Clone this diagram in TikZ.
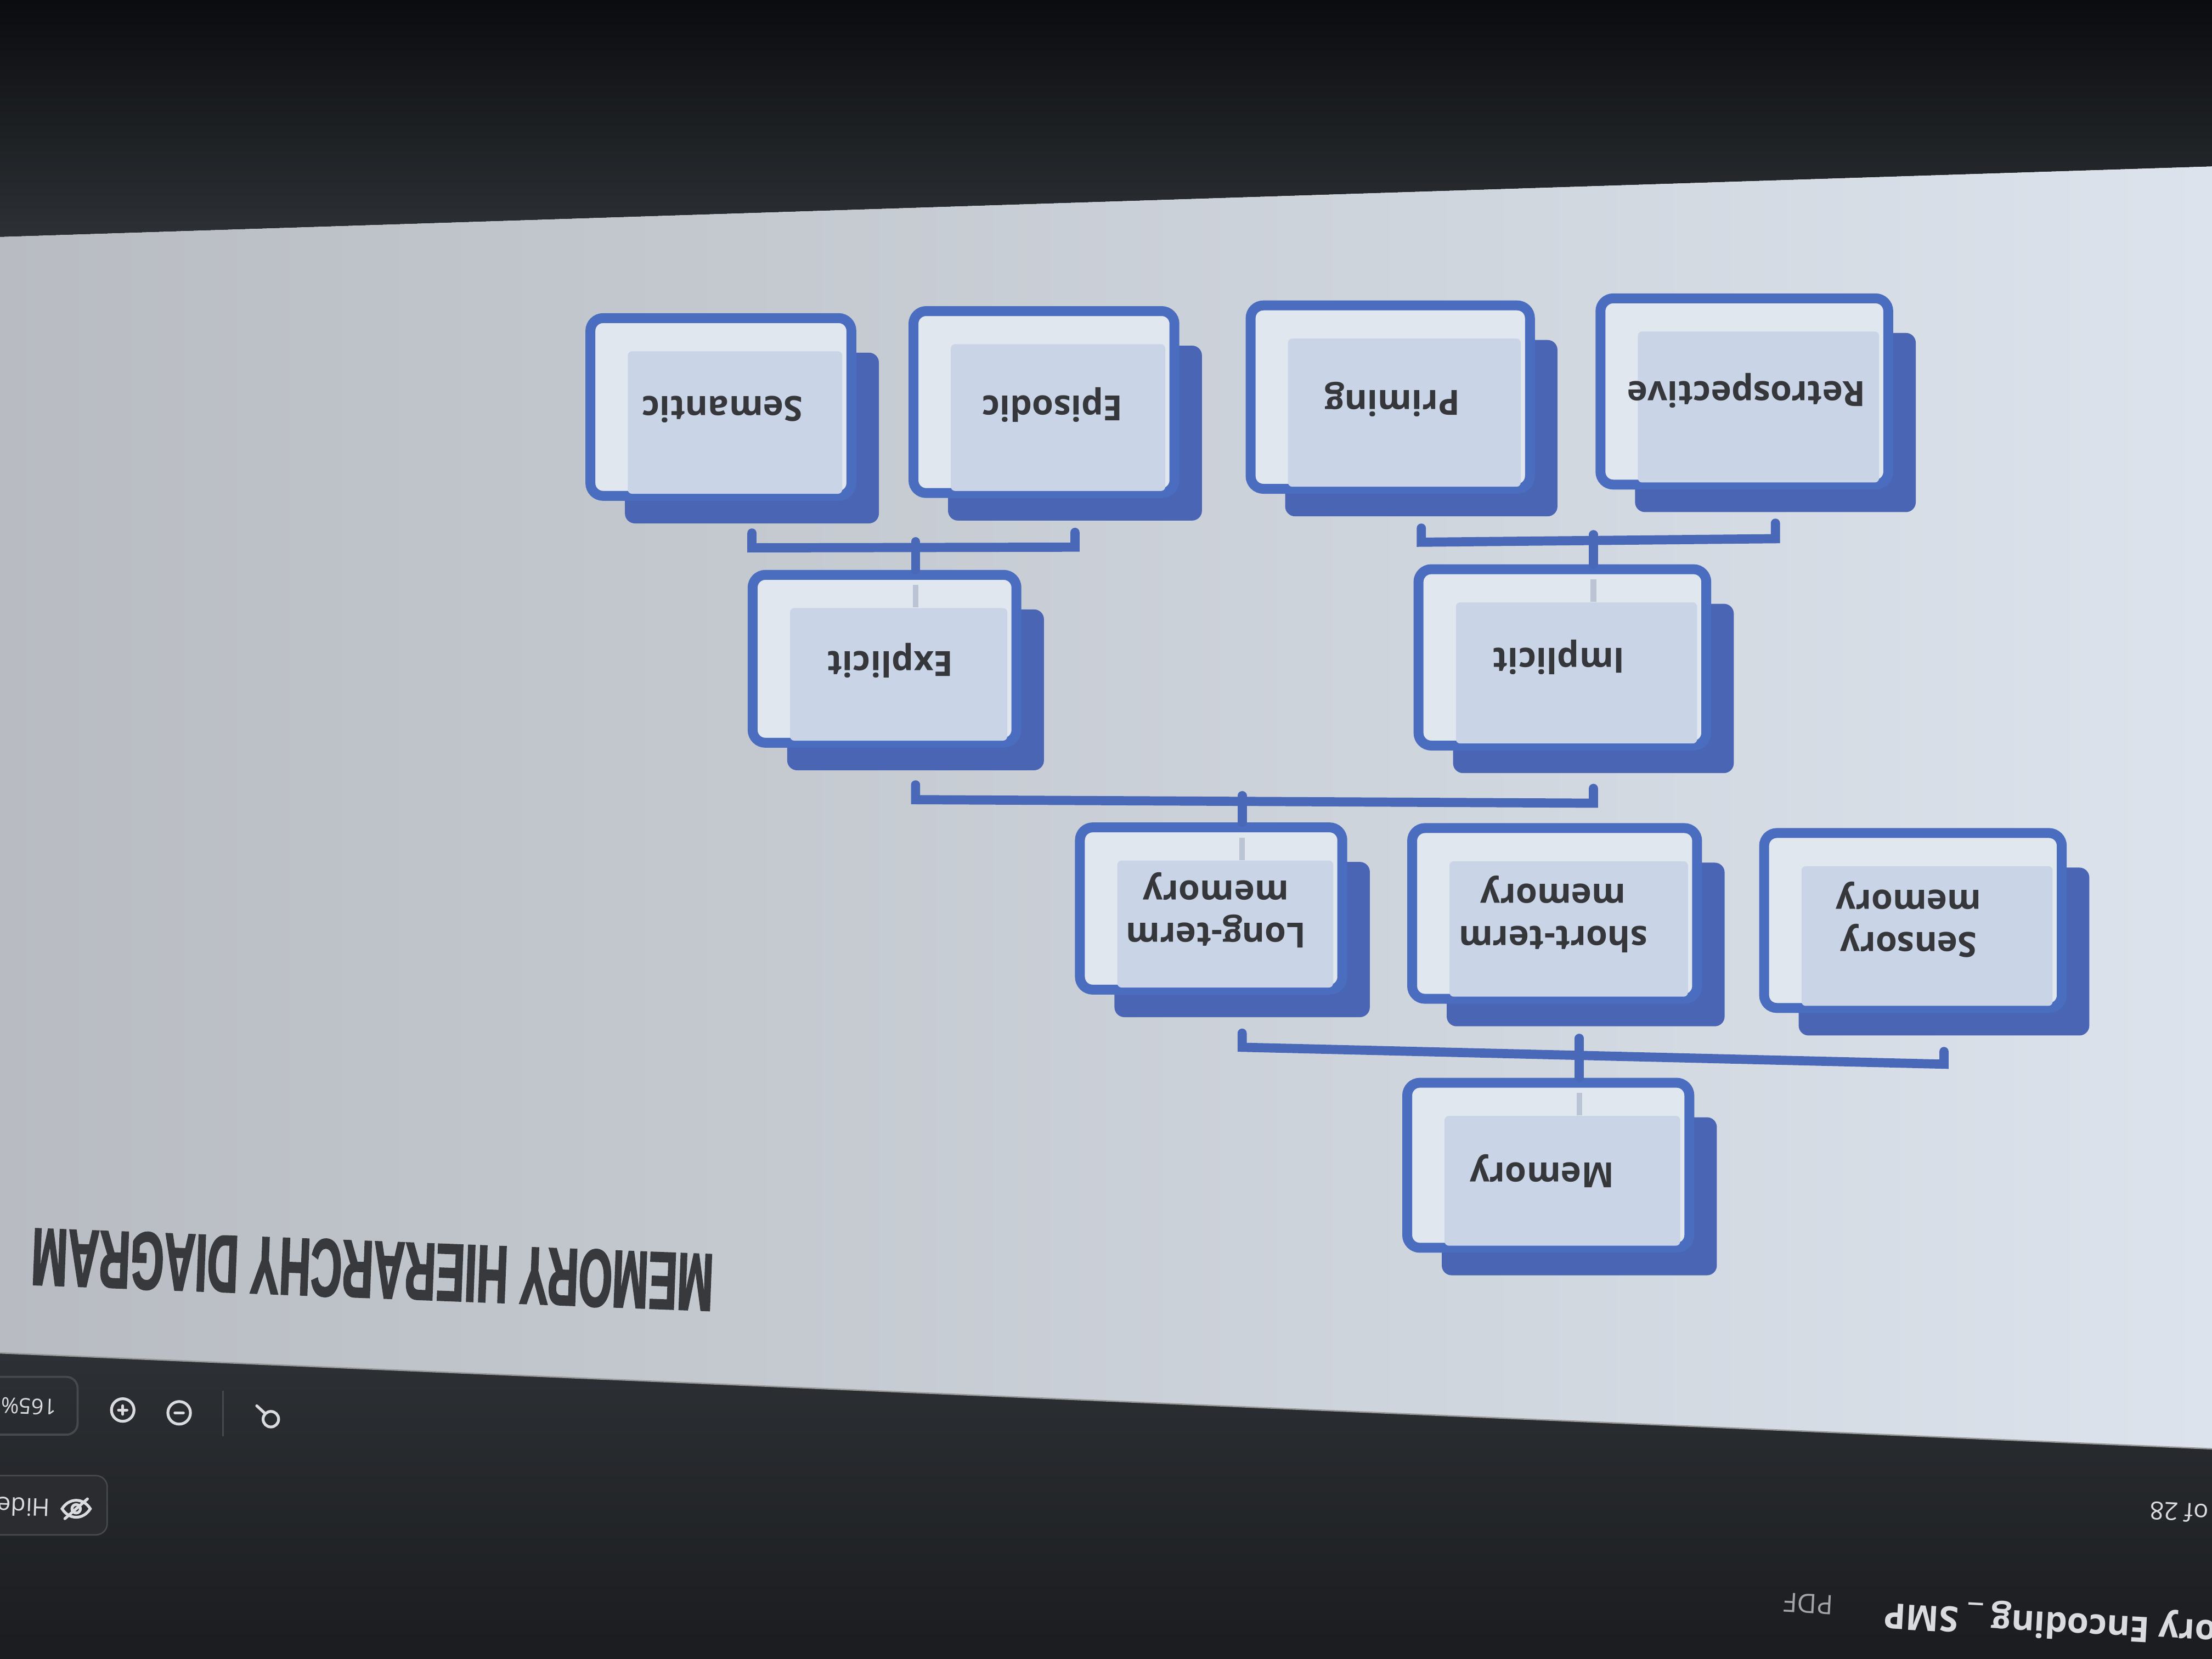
\documentclass[tikz,border=0pt]{standalone}
\usepackage{fontspec}
\setmainfont{Open Sans}
\newfontfamily\cardfont{Open Sans}
\newfontfamily\titlefont[FakeStretch=0.53,FakeBold=1.5]{Liberation Sans}
\newdimen\pix \pix=0.02cm
\definecolor{cardblue}{HTML}{4B6DC0}
\definecolor{shadeblue}{HTML}{4965B3}
\definecolor{panelblue}{HTML}{C9D4E6}
\definecolor{cardwhite}{HTML}{E1E7EF}
\definecolor{linkblue}{HTML}{4A68B8}
\definecolor{stubgray}{HTML}{BAC4D3}
\definecolor{inkgray}{HTML}{36373B}
\definecolor{titlegray}{HTML}{38393D}
\definecolor{uiwhite}{HTML}{D9DBDE}
\definecolor{uigray}{HTML}{46494E}
\definecolor{uibtn}{HTML}{2A2C30}
\definecolor{bezeltop}{HTML}{0A0C0F}
\definecolor{bezelbottom}{HTML}{2D3034}
\definecolor{screenleft}{HTML}{B8BCC2}
\definecolor{screenmid}{HTML}{CFD5DD}
\definecolor{screenright}{HTML}{DCE3EC}
\definecolor{barbottom}{HTML}{1A1C1F}
\begin{document}
\begin{tikzpicture}[x=0.02cm, y=-0.02cm,
  cardframe/.style={draw=cardblue, fill=cardwhite, line width=7\pix, rounded corners=9\pix, inner sep=0pt},
  cardshade/.style={fill=shadeblue, rounded corners=7\pix, inner sep=0pt, xshift=22\pix, yshift=-22\pix},
  cardpanel/.style={fill=panelblue, rounded corners=3\pix, inner sep=0pt, xshift=10\pix, yshift=-11\pix},
  cardtext/.style={font=\cardfont\bfseries\fontsize{14}{17}\selectfont, text=inkgray, align=center, rotate=180, inner sep=0pt},
  titletext/.style={font=\titlefont\bfseries\fontsize{33}{36}\selectfont, text=titlegray, inner sep=0pt},
  link/.style={draw=linkblue, line width=6.5\pix, line cap=round},
  stub/.style={draw=stubgray, line width=4\pix},
  uitext/.style={text=uiwhite, inner sep=0pt},
  uiicon/.style={draw=uiwhite, line width=2\pix, line cap=round},
]
\useasboundingbox (0,0) rectangle (1568,1176);
\clip (0,0) rectangle (1568,1176);

% the photo: bezel, screen, toolbar
\shade[top color=bezeltop, bottom color=bezelbottom] (0,0) -- (1568,0) -- (1568,118) -- (0,168) -- cycle;
\shade[left color=screenleft, middle color=screenmid, right color=screenright] (0,168) -- (1568,118) -- (1568,1027) -- (0,959) -- cycle;
\shade[top color=bezelbottom, bottom color=barbottom] (0,959) -- (1568,1027) -- (1568,1176) -- (0,1176) -- cycle;
\draw[black!40, line width=1\pix] (0,959) -- (1568,1027);

% Memory
\node[cardshade, minimum width=195\pix, minimum height=112\pix] (mem-s) at (1097.5,826) {};
\node[cardframe, minimum width=200\pix, minimum height=117\pix] (mem) at (1097.5,826) {};
\node[cardpanel, minimum width=167\pix, minimum height=92\pix] (mem-p) at (1097.5,826) {};
\node[cardtext] (mem-t) at (1093,830) {Memory};

% Sensory memory
\node[cardshade, minimum width=206\pix, minimum height=119\pix] (sens-s) at (1356,652.5) {};
\node[cardframe, minimum width=211\pix, minimum height=124\pix] (sens) at (1356,652.5) {};
\node[cardpanel, minimum width=178\pix, minimum height=99\pix] (sens-p) at (1356,652.5) {};
\node[cardtext] (sens-t) at (1353,652) {Sensory\\memory};

% short-term memory
\node[cardshade, minimum width=197\pix, minimum height=116\pix] (stm-s) at (1102,647.5) {};
\node[cardframe, minimum width=202\pix, minimum height=121\pix] (stm) at (1102,647.5) {};
\node[cardpanel, minimum width=169\pix, minimum height=96\pix] (stm-p) at (1102,647.5) {};
\node[cardtext] (stm-t) at (1101,648) {short-term\\memory};

% Long-term memory
\node[cardshade, minimum width=181\pix, minimum height=110\pix] (ltm-s) at (858.5,644) {};
\node[cardframe, minimum width=186\pix, minimum height=115\pix] (ltm) at (858.5,644) {};
\node[cardpanel, minimum width=153\pix, minimum height=90\pix] (ltm-p) at (858.5,644) {};
\node[cardtext] (ltm-t) at (862,645) {Long-term\\memory};

% Implicit
\node[cardshade, minimum width=199\pix, minimum height=120\pix] (impl-s) at (1107.5,466) {};
\node[cardframe, minimum width=204\pix, minimum height=125\pix] (impl) at (1107.5,466) {};
\node[cardpanel, minimum width=171\pix, minimum height=100\pix] (impl-p) at (1107.5,466) {};
\node[cardtext] (impl-t) at (1105,466) {Implicit};

% Explicit
\node[cardshade, minimum width=182\pix, minimum height=114\pix] (expl-s) at (627,467) {};
\node[cardframe, minimum width=187\pix, minimum height=119\pix] (expl) at (627,467) {};
\node[cardpanel, minimum width=154\pix, minimum height=94\pix] (expl-p) at (627,467) {};
\node[cardtext] (expl-t) at (631,468) {Explicit};

% Retrospective
\node[cardshade, minimum width=199\pix, minimum height=127\pix] (retro-s) at (1236.5,277.5) {};
\node[cardframe, minimum width=204\pix, minimum height=132\pix] (retro) at (1236.5,277.5) {};
\node[cardpanel, minimum width=171\pix, minimum height=107\pix] (retro-p) at (1236.5,277.5) {};
\node[cardtext] (retro-t) at (1238,277) {Retrospective};

% Priming
\node[cardshade, minimum width=193\pix, minimum height=125\pix] (prim-s) at (985.5,281.5) {};
\node[cardframe, minimum width=198\pix, minimum height=130\pix] (prim) at (985.5,281.5) {};
\node[cardpanel, minimum width=165\pix, minimum height=105\pix] (prim-p) at (985.5,281.5) {};
\node[cardtext] (prim-t) at (987,283) {Priming};

% Episodic
\node[cardshade, minimum width=180\pix, minimum height=124\pix] (epi-s) at (740,285) {};
\node[cardframe, minimum width=185\pix, minimum height=129\pix] (epi) at (740,285) {};
\node[cardpanel, minimum width=152\pix, minimum height=104\pix] (epi-p) at (740,285) {};
\node[cardtext] (epi-t) at (746,287) {Episodic};

% Semantic
\node[cardshade, minimum width=180\pix, minimum height=121\pix] (sem-s) at (511,288.5) {};
\node[cardframe, minimum width=185\pix, minimum height=126\pix] (sem) at (511,288.5) {};
\node[cardpanel, minimum width=152\pix, minimum height=101\pix] (sem-p) at (511,288.5) {};
\node[cardtext] (sem-t) at (512,290) {Semantic};

% brackets
\draw[link] ([yshift=-11\pix]ltm-s.south) -- ++(0,10) -- ([yshift=-20\pix]sens-s.south) -- ([yshift=-11\pix]sens-s.south);
\draw[link] (mem-s.north |- mem.north) -- ++(0,-28);
\draw[link] ([yshift=-10\pix]expl-s.south) -- ++(0,10.5) -- ([yshift=-21\pix]impl-s.south) -- ([yshift=-10.5\pix]impl-s.south);
\draw[link] (ltm-s.north |- ltm.north) -- ++(0,-19);
\draw[link] ([yshift=-6.5\pix]sem-s.south) -- ++(0,10.5) -- ([yshift=-18.5\pix]epi-s.south) -- ([yshift=-8\pix]epi-s.south);
\draw[link] (expl-s.north |- expl.north) -- ++(0,-20);
\draw[link] ([yshift=-8\pix]prim-s.south) -- ++(0,10) -- ([yshift=-18.5\pix]retro-s.south) -- ([yshift=-7.5\pix]retro-s.south);
\draw[link] (impl-s.north |- impl.north) -- ++(0,-21);
\draw[stub] (mem-s.north |- mem-p.north) -- ++(0,-16);
\draw[stub] (ltm-s.north |- ltm-p.north) -- ++(0,-16);
\draw[stub] (expl-s.north |- expl-p.north) -- ++(0,-16);
\draw[stub] (impl-s.north |- impl-p.north) -- ++(0,-16);

% title
\node[titletext, rotate=177.8] (title) at (264,900) {MEMORY HIERARCHY DIAGRAM};

% toolbar
\draw[uigray, line width=1.5\pix, rounded corners=8\pix] (-20,976) rectangle (55,1017);
\node[uitext, anchor=base west, rotate=178, font=\cardfont\fontsize{8.8}{10}\selectfont] (zoomlevel) at (40.5,992) {165\%};
\draw[uiicon] (87,999.5) circle (8);
\draw[uiicon] (84,999.5) -- (90,999.5) (87,996.5) -- (87,1002.5);
\draw[uiicon] (127,1001.5) circle (8);
\draw[uiicon] (124,1001.5) -- (130,1001.5);
\draw[uigray, line width=1\pix] (158,986) -- (158,1018);
\draw[uiicon] (192,1006) circle (5.5);
\draw[uiicon] (188,1002) -- (182,996.5);
\draw[uigray, fill=uibtn, line width=1\pix, rounded corners=8\pix] (-20,1046) rectangle (76,1088);
\node[uitext, anchor=base west, rotate=178, font=\cardfont\fontsize{9.8}{11}\selectfont] (hide) at (36,1062.5) {Hide};
\begin{scope}[shift={(54,1069.5)}]
  \draw[uiicon] (-10,0) .. controls (-5,-8) and (5,-8) .. (10,0) .. controls (5,8) and (-5,8) .. (-10,0) -- cycle;
  \draw[uiicon] (0,0) circle (3);
  \draw[uiicon] (-8,7) -- (8,-7);
\end{scope}
\node[uitext, anchor=base west, rotate=177, font=\cardfont\fontsize{10}{12}\selectfont] (pages) at (1566,1066.5) {of 28};
\node[uitext, anchor=base west, rotate=177, font=\cardfont\bfseries\fontsize{14.2}{16}\selectfont] (doc) at (1572,1149) {ory Encoding \_ SMP};
\node[uitext, anchor=base west, rotate=177, text=uiwhite!75!black, font=\cardfont\fontsize{10.8}{12}\selectfont] (doctype) at (1300,1131) {PDF};
\end{tikzpicture}
\end{document}
